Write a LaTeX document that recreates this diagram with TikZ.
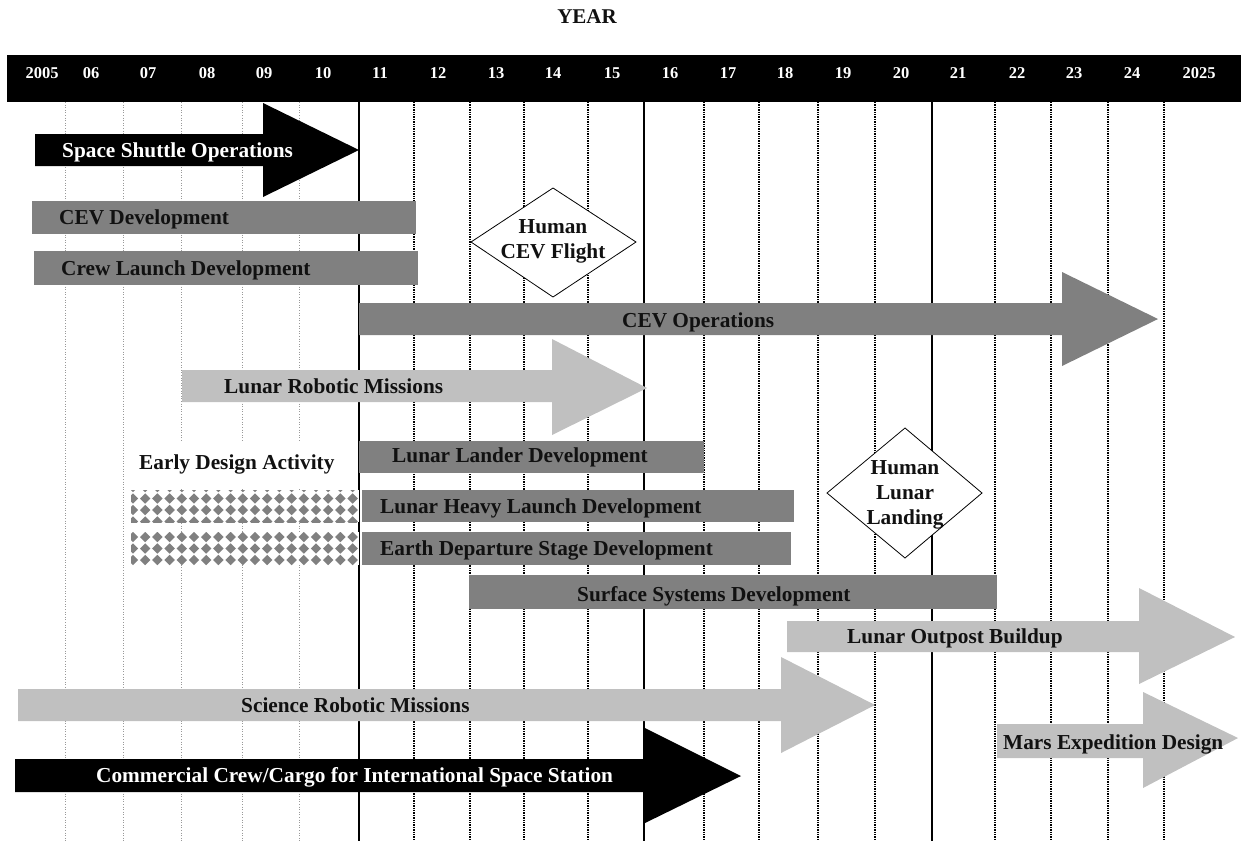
\documentclass[tikz,border=0pt]{standalone}
\usepackage{fontspec}
\setmainfont{Liberation Serif}
\definecolor{dgray}{HTML}{808080}
\definecolor{lgray}{HTML}{C0C0C0}
\definecolor{txt}{HTML}{111111}
\tikzset{
  thinline/.style={draw=gray!80, line width=0.9pt, dash pattern=on 1pt off 1.6pt},
  thickline/.style={draw=black, line width=1.6pt, dash pattern=on 1.4pt off 1pt},
  solidline/.style={draw=black, line width=1.8pt},
  yearlbl/.style={text=white, font=\fontsize{16.5}{18}\selectfont\bfseries, inner sep=0pt},
  barlbl/.style={text=txt, font=\fontsize{21.3}{25}\selectfont\bfseries, inner sep=0pt, anchor=base west},
  wbarlbl/.style={barlbl, text=white},
  msgtext/.style={text=txt, font=\fontsize{21.3}{25}\selectfont\bfseries, inner sep=0pt, align=center},
  milestone/.style={draw=black, line width=0.8pt, fill=white}
}
\begin{document}
\begin{tikzpicture}[x=1pt,y=-1pt]
\useasboundingbox (0,0) rectangle (1241,841);
\fill[white] (0,0) rectangle (1241,841);

% title
\node[text=txt, font=\fontsize{21}{23}\selectfont\bfseries, inner sep=0pt] (title) at (587,17) {YEAR};

% vertical grid lines
\foreach \x in {65,123,181,242,299} \draw[thinline] (\x,102) -- (\x,841);
\foreach \x in {414,470,524,588,704,759,818,875,995,1051,1108,1164} \draw[thickline] (\x,102) -- (\x,841);
\foreach \x in {359,644,932} \draw[solidline] (\x,102) -- (\x,841);

% year bar
\fill[black] (7,55) rectangle (1241,102);
\foreach \x/\l [count=\k] in {42/2005,91/06,148/07,207/08,264/09,323/10,380/11,438/12,496/13,553/14,612/15,670/16,728/17,785/18,843/19,901/20,958/21,1017/22,1074/23,1132/24,1199/2025}
  \node[yearlbl] (yr\k) at (\x,73) {\l};

% Space Shuttle Operations
\fill[black] (35,134) -- (263,134) -- (263,103) -- (359,150) -- (263,197) -- (263,166) -- (35,166) -- cycle;
\node[wbarlbl] (sso) at (62,157) {Space Shuttle Operations};

% CEV Development
\fill[dgray] (32,201) rectangle (416,234);
\node[barlbl] (cevd) at (59,224) {CEV Development};

% Crew Launch Development
\fill[dgray] (34,251) rectangle (418,285);
\node[barlbl] (cld) at (61,275) {Crew Launch Development};

% Human CEV Flight milestone
\draw[milestone] (553,188) -- (636,242) -- (553,297) -- (471,242) -- cycle;
\node[msgtext] (hcf) at (553,241) {Human\\CEV Flight};

% CEV Operations
\fill[dgray] (359,303) -- (1062,303) -- (1062,272) -- (1158,319) -- (1062,366) -- (1062,335) -- (359,335) -- cycle;
\node[barlbl] (cevo) at (622,327) {CEV Operations};

% Lunar Robotic Missions
\fill[lgray] (182,370) -- (552,370) -- (552,339) -- (647,388) -- (552,435) -- (552,402) -- (182,402) -- cycle;
\node[barlbl] (lrm) at (224,393) {Lunar Robotic Missions};

% Early design activity
\fill[white] (127,441) rectangle (357,489);
\node[barlbl] (eda) at (139,469) {Early Design Activity};

\fill[white] (131,490) rectangle (359,522);
\fill[white] (131,532) rectangle (359,565);
\begin{scope}
  \clip (131,490) rectangle (359,522);
  \foreach \i in {0,...,19} \foreach \j in {0,...,3}
    \fill[dgray] ({133+12.2*\i-5.2},{487+11.5*\j}) -- ++(5.2,-5.2) -- ++(5.2,5.2) -- ++(-5.2,5.2) -- cycle;
\end{scope}
\begin{scope}
  \clip (131,532) rectangle (359,565);
  \foreach \i in {0,...,19} \foreach \j in {0,...,3}
    \fill[dgray] ({133+12.2*\i-5.2},{525.5+11.5*\j}) -- ++(5.2,-5.2) -- ++(5.2,5.2) -- ++(-5.2,5.2) -- cycle;
\end{scope}

% Lunar Lander Development
\fill[dgray] (359,441) rectangle (704,473);
\node[barlbl] (lld) at (392,462) {Lunar Lander Development};

% Lunar Heavy Launch Development
\fill[dgray] (362,490) rectangle (794,522);
\node[barlbl] (lhl) at (380,513) {Lunar Heavy Launch Development};

% Earth Departure Stage Development
\fill[dgray] (362,532) rectangle (791,565);
\node[barlbl] (eds) at (380,555) {Earth Departure Stage Development};

% Human Lunar Landing milestone
\draw[milestone] (905,428) -- (982,493) -- (905,558) -- (827,493) -- cycle;
\node[msgtext] (hll) at (905,495) {Human\\Lunar\\Landing};

% Surface Systems Development
\fill[dgray] (469,575) rectangle (997,609);
\node[barlbl] (ssd) at (577,601) {Surface Systems Development};

% Lunar Outpost Buildup
\fill[lgray] (787,621) -- (1139,621) -- (1139,588) -- (1235,637) -- (1139,684) -- (1139,652) -- (787,652) -- cycle;
\node[barlbl] (lob) at (847,643) {Lunar Outpost Buildup};

% Science Robotic Missions
\fill[lgray] (18,689) -- (781,689) -- (781,657) -- (875,705) -- (781,753) -- (781,721) -- (18,721) -- cycle;
\node[barlbl] (srm) at (241,712) {Science Robotic Missions};

% Mars Expedition Design
\fill[lgray] (997,724) -- (1143,724) -- (1143,692) -- (1238,738) -- (1143,788) -- (1143,758) -- (997,758) -- cycle;
\node[barlbl] (med) at (1003,749) {Mars Expedition Design};

% Commercial Crew/Cargo
\fill[black] (15,759) -- (645,759) -- (645,728) -- (741,776) -- (645,823) -- (645,792) -- (15,792) -- cycle;
\node[wbarlbl] (ccc) at (96,782) {Commercial Crew/Cargo for International Space Station};
\end{tikzpicture}
\end{document}
